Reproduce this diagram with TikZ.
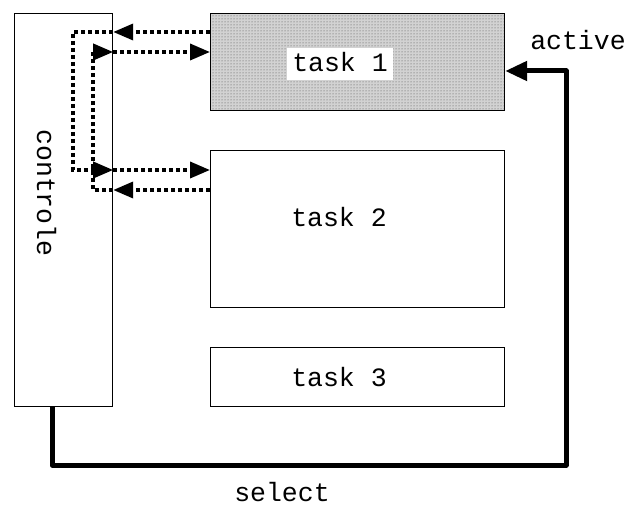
\documentclass[tikz,border=0pt]{standalone}
\usepackage{fontspec}
\newfontfamily\monofont{Liberation Mono}
\usetikzlibrary{arrows.meta,patterns}
\begin{document}
\begin{tikzpicture}[x=1pt,y=-1pt,
  box/.style={draw=black,line width=1.2pt,rectangle,inner sep=0pt,anchor=north west},
  lbl/.style={font=\monofont\fontsize{26.5}{30}\selectfont,inner sep=0pt,anchor=base},
  msg/.style={line width=3.6pt,dash pattern=on 4pt off 3pt,
    -{Triangle[length=20pt,width=16pt]}},
  ctrl/.style={line width=5pt,line join=round,
    -{Triangle[length=22pt,width=19pt]}}]
\useasboundingbox (0,0) rectangle (638,505);

% controller and the three tasks
\node[box,minimum width=98pt,minimum height=393pt] (c) at (14,13) {};
\node[box,minimum width=294pt,minimum height=97pt,
      preaction={fill=gray!35},pattern=dots,pattern color=black!70] (t1) at (210,13) {};
\node[box,minimum width=294pt,minimum height=157pt] (t2) at (210,150) {};
\node[box,minimum width=294pt,minimum height=59pt] (t3) at (210,347) {};

% labels
\node[lbl,rotate=-90] (cl) at (37,193) {controle};
\node[lbl,fill=white,inner xsep=5pt,inner ysep=0pt,text height=24pt,text depth=8pt] (l1) at (340,72) {task 1};
\node[lbl] (l2) at (339,227) {task 2};
\node[lbl] (l3) at (339,387) {task 3};
\node[lbl] (act) at (578,50) {active};
\node[lbl] (sel) at (282,501) {select};

% points where the message lines meet the boxes
\coordinate (a1) at (c.east |- 0,32);
\coordinate (a2) at (c.east |- 0,170);
\coordinate (b1) at (c.east |- 0,52);
\coordinate (b2) at (c.east |- 0,190);

% messages between tasks 1 and 2, passing through the controller
\draw[msg] (t1.west |- a1) -- (a1);
\draw[msg] (a1) -- (73,32) -- (73,170) -- (a2);
\draw[msg] (a2) -- (t2.west |- a2);

\draw[msg] (t2.west |- b2) -- (b2);
\draw[msg] (b2) -- (93,190) -- (93,52) -- (b1);
\draw[msg] (b1) -- (t1.west |- b1);

% select / active control loop
\coordinate (s0) at (c.south -| 52,0);
\coordinate (s1) at (t1.east |- 0,71);
\draw[ctrl] (s0) -- (52,465) -- (566,465) -- (566,71) -- (s1);
\end{tikzpicture}
\end{document}
